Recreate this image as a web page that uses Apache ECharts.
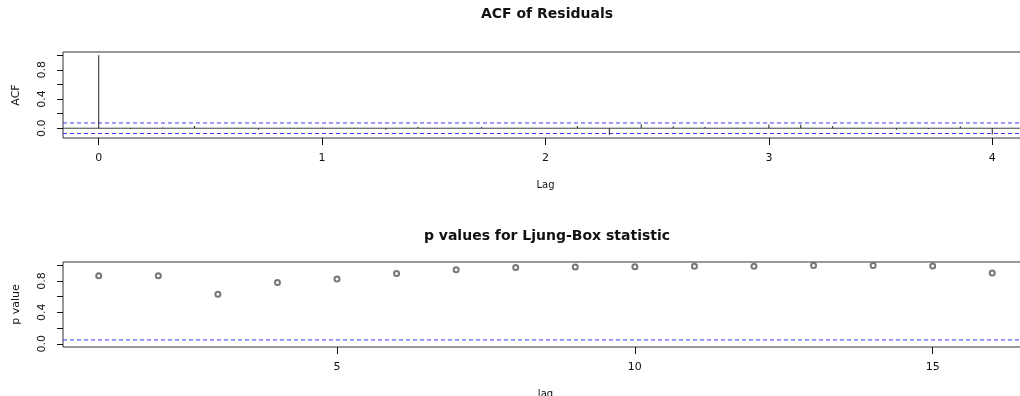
<!DOCTYPE html>
<html>
<head>
<meta charset="utf-8">
<script src="https://cdn.jsdelivr.net/npm/echarts@6/dist/echarts.min.js"></script>
<style>
  html, body { margin: 0; padding: 0; background: #ffffff; }
  #chart { width: 1020px; height: 396px; }
</style>
</head>
<body>
<div id="chart"></div>
<script>
// Residual autocorrelations, lag counted in observations (7 per seasonal period)
const acfLags = [0, 1, 2, 3, 4, 5, 6, 7, 8, 9, 10, 11, 12, 13, 14,
                 15, 16, 17, 18, 19, 20, 21, 22, 23, 24, 25, 26, 27, 28];
const acfValues = [1.000, -0.010, 0.010, 0.030, -0.005, -0.020, 0.005, 0.008, 0.005, -0.020,
                   0.020, -0.005, 0.015, -0.005, -0.004, 0.030, -0.090, 0.055, 0.025, 0.020,
                   0.005, 0.050, 0.050, 0.030, 0.004, -0.020, -0.010, 0.025, -0.085];
const acfLagTicks = [0, 7, 14, 21, 28];
const acfLagLabels = ['0', '1', '2', '3', '4'];
const confLimit = 0.072;

// Ljung-Box p values by lag
const lbLags = [1, 2, 3, 4, 5, 6, 7, 8, 9, 10, 11, 12, 13, 14, 15, 16];
const lbPValues = [0.866, 0.866, 0.629, 0.779, 0.825, 0.895, 0.941, 0.970,
                   0.975, 0.979, 0.987, 0.987, 0.995, 0.995, 0.990, 0.900];
const lbLagTicks = [5, 10, 15];
const lbLagLabels = ['5', '10', '15'];
const sigLevel = 0.05;

const yTickValues = [0, 0.2, 0.4, 0.6, 0.8, 1.0];
const yLabelValues = [0, 0.4, 0.8];

// axis extents (data range padded by 4% on each side)
const acfX = [-1.12, 29.12], acfY = [-0.1336, 1.0436];
const lbX = [0.4, 16.6], lbY = [-0.04, 1.04];

const FONT = 'DejaVu Sans';
const INK = '#111111';
const BLUE = '#3a3aff';

function xAxisFor(gridIndex, range, ticks, labels, name) {
  return {
    type: 'value', gridIndex, min: range[0], max: range[1], position: 'bottom',
    splitLine: { show: false },
    axisLine: { show: false, onZero: false },
    axisTick: { show: true, inside: false, length: 7, customValues: ticks,
                lineStyle: { color: INK, width: 1 } },
    axisLabel: { show: true, customValues: ticks, margin: 15,
                 color: INK, fontFamily: FONT, fontSize: 11,
                 formatter: v => labels[ticks.indexOf(v)] },
    name, nameLocation: 'middle', nameGap: 42,
    nameTextStyle: { color: INK, fontFamily: FONT, fontSize: 10 }
  };
}

function yAxisFor(gridIndex, range, name) {
  return {
    type: 'value', gridIndex, min: range[0], max: range[1], position: 'left',
    splitLine: { show: false },
    axisLine: { show: false, onZero: false },
    axisTick: { show: true, inside: false, length: 6, customValues: yTickValues,
                lineStyle: { color: INK, width: 1 } },
    axisLabel: { show: true, customValues: yLabelValues, rotate: 90, margin: 15,
                 color: INK, fontFamily: FONT, fontSize: 11,
                 formatter: v => v.toFixed(1) },
    name, nameLocation: 'middle', nameGap: 41, nameRotate: 90,
    nameTextStyle: { color: INK, fontFamily: FONT, fontSize: 11 }
  };
}

const gridBox = { show: true, borderColor: '#333333', borderWidth: 1,
                  backgroundColor: 'transparent', containLabel: false,
                  outerBoundsMode: 'none' };

// horizontal reference line spanning the whole x extent of a panel
function hLine(idx, xRange, level, color, dash) {
  return {
    type: 'line', xAxisIndex: idx, yAxisIndex: idx, silent: true,
    showSymbol: false, symbol: 'none', clip: true, z: 1,
    lineStyle: { color, type: dash, width: 1 },
    itemStyle: { color },
    data: [[xRange[0], level], [xRange[1], level]]
  };
}

const option = {
  animation: false,
  backgroundColor: '#ffffff',
  title: [
    { text: 'ACF of Residuals', left: 547, top: 7, padding: 0, textAlign: 'center',
      textStyle: { fontFamily: FONT, fontSize: 14, fontWeight: 'bold', color: INK } },
    { text: 'p values for Ljung-Box statistic', left: 547, top: 229, padding: 0, textAlign: 'center',
      textStyle: { fontFamily: FONT, fontSize: 14, fontWeight: 'bold', color: INK } }
  ],
  grid: [
    Object.assign({ left: 63, top: 52, width: 965, height: 86 }, gridBox),
    Object.assign({ left: 63, top: 262, width: 965, height: 85 }, gridBox)
  ],
  xAxis: [
    xAxisFor(0, acfX, acfLagTicks, acfLagLabels, 'Lag'),
    xAxisFor(1, lbX, lbLagTicks, lbLagLabels, 'lag')
  ],
  yAxis: [
    yAxisFor(0, acfY, 'ACF'),
    yAxisFor(1, lbY, 'p value')
  ],
  series: [
    // zero line and approximate 95% bounds for the autocorrelations
    hLine(0, acfX, 0, '#444444', 'solid'),
    hLine(0, acfX, confLimit, BLUE, [4, 3]),
    hLine(0, acfX, -confLimit, BLUE, [4, 3]),
    {
      // vertical spikes from zero to each autocorrelation
      type: 'custom', xAxisIndex: 0, yAxisIndex: 0, silent: true, z: 3,
      data: acfLags.map((lag, i) => [lag, acfValues[i]]),
      renderItem: (params, api) => {
        const base = api.coord([api.value(0), 0]);
        const tip = api.coord([api.value(0), api.value(1)]);
        return {
          type: 'line',
          shape: { x1: base[0], y1: base[1], x2: tip[0], y2: tip[1] },
          style: { stroke: '#222222', lineWidth: 1 }
        };
      }
    },
    // 5% significance level for the p values
    hLine(1, lbX, sigLevel, BLUE, [4, 3]),
    {
      type: 'scatter', xAxisIndex: 1, yAxisIndex: 1, silent: true, z: 3,
      symbol: 'emptyCircle', symbolSize: 5,
      itemStyle: { color: '#555555', borderColor: '#555555', borderWidth: 1 },
      data: lbLags.map((lag, i) => [lag, lbPValues[i]])
    }
  ]
};

const chart = echarts.init(document.getElementById('chart'), null, { renderer: 'canvas' });
chart.setOption(option);
</script>
</body>
</html>
